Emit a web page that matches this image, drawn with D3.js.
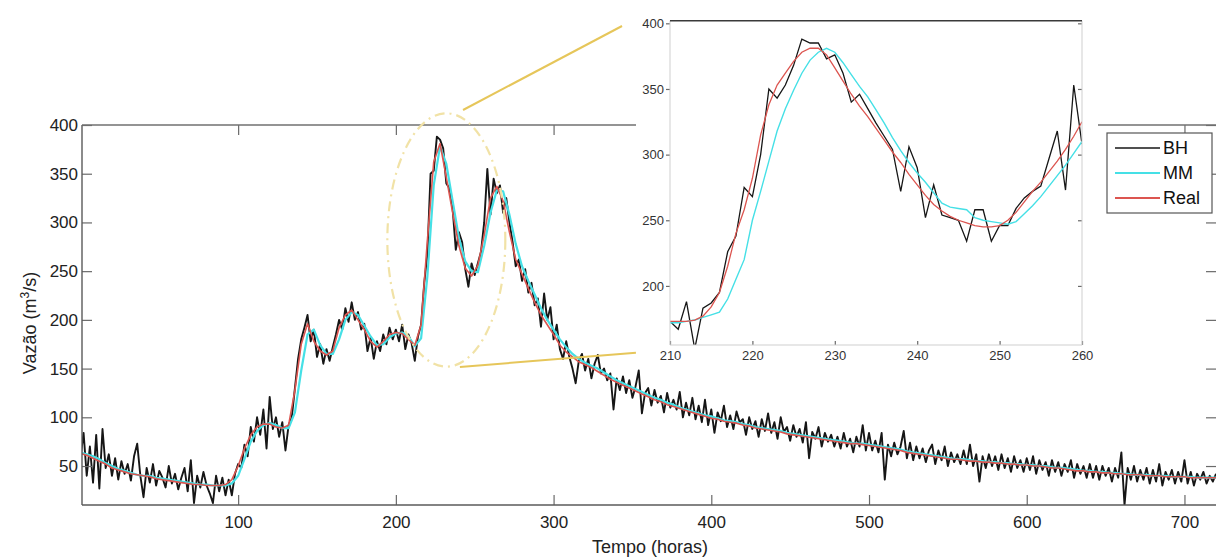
<!DOCTYPE html>
<html>
<head>
<meta charset="utf-8">
<script src="https://cdn.jsdelivr.net/npm/d3@7"></script>
<style>
  body { margin: 0; background: #fff; }
  svg { display: block; font-family: "Liberation Sans", Arial, sans-serif; }
</style>
</head>
<body>
<div class="chart"></div>
<script>
// Main series (hours 0..720). Real and MM every 4 h, BH every 2 h
var realMain = [
  63,61,58,55,52,48,46,44,42,41,
  40,39,37,36,35,34,33,32,31,31,
  30,30,30,31,36,50,68,82,90,93,
  93,90,89,92,128,175,196,178,168,164,
  168,192,205,210,200,190,178,172,178,185,
  187,186,180,174,195,282,362,381,346,310,
  276,253,245,256,287,325,337,322,290,262,
  247,232,218,205,195,185,174,167,162,157,
  154,151,147,143,139,136,133,130,127,124,
  121,118,116,113,111,109,107,105,103,101,
  99,98,96,95,94,92,91,89,88,87,
  86,85,83,82,81,80,79,78,77,76,
  75,74,73,73,72,71,70,69,68,67,
  66,64,63,62,61,60,59,58,57,57,
  56,55,55,54,54,53,53,52,52,51,
  51,50,50,49,48,48,47,46,45,45,
  44,44,43,43,42,42,41,41,41,40,
  40,40,39,39,39,39,38,38,38,38,
  38
];
var mmMain = [
  64,62,60,57,53,50,47,45,43,41,
  40,40,38,37,36,35,34,33,32,31,
  31,30,30,30,32,40,57,75,86,92,
  94,92,89,89,105,148,185,190,174,165,
  165,180,200,208,205,194,183,174,175,182,
  186,187,183,173,181,245,338,378,360,322,
  284,260,250,249,276,310,333,332,308,278,
  255,240,226,212,200,190,180,172,165,160,
  156,153,150,146,142,138,135,132,129,126,
  123,120,118,115,113,110,108,106,104,102,
  101,99,97,96,95,93,92,90,89,88,
  87,86,84,83,82,81,80,79,78,77,
  76,75,74,73,73,72,71,70,69,68,
  67,65,64,63,62,61,60,59,58,57,
  57,56,55,55,54,54,53,53,52,52,
  51,51,50,50,49,48,48,47,46,45,
  45,44,44,43,43,42,42,41,41,41,
  40,40,40,39,39,39,39,38,38,38,
  38
];
var bhMain = [
  58,84,40,70,33,82,27,88,48,62,
  40,58,36,55,42,52,35,60,73,40,
  18,48,33,52,30,45,38,28,50,32,
  42,26,38,48,24,56,12,40,28,44,
  30,22,12,40,24,38,20,36,20,42,
  52,48,72,60,90,75,100,82,108,68,
  121,88,100,80,95,66,92,100,130,160,
  180,192,205,178,190,162,175,155,170,158,
  172,185,200,190,212,198,218,200,208,190,
  196,168,182,160,178,168,185,175,192,180,
  190,178,195,170,185,176,158,183,195,238,
  268,350,353,388,385,376,340,335,314,272,
  290,280,252,234,258,246,258,270,300,355,
  308,345,330,338,310,325,300,280,255,262,
  240,252,228,238,215,222,193,227,200,213,
  180,195,170,160,178,162,150,135,158,165,
  148,160,140,155,164,145,150,138,145,108,
  140,128,142,125,138,120,132,148,104,125,
  130,112,128,115,122,105,125,110,118,108,
  126,100,115,102,120,98,112,95,118,92,
  108,84,105,96,112,90,102,88,106,95,
  98,82,100,88,96,80,98,86,104,84,
  95,78,100,85,90,76,92,80,88,74,
  95,58,85,78,90,70,84,75,82,70,
  80,68,84,70,78,64,80,70,92,66,
  84,66,76,64,84,36,72,60,74,62,
  70,86,58,74,56,70,58,68,54,66,
  72,52,66,56,70,50,64,54,62,52,
  66,52,72,50,62,34,60,48,62,50,
  60,46,62,48,58,44,60,48,56,44,
  58,46,60,42,56,46,54,40,56,44,
  54,40,52,44,56,38,52,42,50,38,
  52,38,50,36,50,40,48,34,48,38,
  64,10,48,36,50,34,46,36,48,32,
  46,34,52,30,44,36,46,32,44,34,
  56,32,44,30,42,36,44,32,40,34,
  42
];

// Zoomed window, hourly from 210 to 260
var realZoom = [
  173,173,173,174,177,184,195,215,240,258,
  282,315,338,353,362,371,378,381,381,376,
  366,356,346,337,329,320,311,302,294,285,
  277,269,262,257,253,250,248,246,245,245,
  246,250,256,264,272,279,287,295,304,314,
  325
];
var mmZoom = [
  172,172,173,174,176,178,180,190,205,220,
  250,272,295,318,335,349,362,372,378,381,
  378,370,361,352,344,334,324,313,303,294,
  286,279,271,263,260,259,258,252,250,249,
  248,247,249,255,261,268,276,284,292,301,
  310
];
var bhZoom = [
  173,167,188,152,183,187,195,226,238,275,
  268,300,350,343,353,368,388,385,385,373,
  376,362,340,346,335,324,314,304,272,306,
  290,252,277,254,252,250,234,258,258,234,
  246,246,259,267,272,276,297,318,273,353,
  308
];

var mainXTicks = [100, 200, 300, 400, 500, 600, 700];
var mainYTicks = [50, 100, 150, 200, 250, 300, 350, 400];
var zoomXTicks = [210, 220, 230, 240, 250, 260];
var zoomYTicks = [200, 250, 300, 350, 400];
var seriesNames = ["BH", "MM", "Real"];
var seriesColors = ["#161616", "#45e0e6", "#dc5550"];

var mainHours4 = d3.range(0, 721, 4);
var mainHours2 = d3.range(0, 721, 2);
var zoomHours = d3.range(210, 261, 1);

var svgWidth = 1216;
var svgHeight = 558;

var svg = d3.select(".chart")
  .append("svg")
  .attr("width", svgWidth)
  .attr("height", svgHeight);

svg.append("rect").attr("width", svgWidth).attr("height", svgHeight).attr("fill", "#fff");

// ---------- main chart ----------
var xMain = d3.scaleLinear().domain([1, 720]).range([82, 1216]);
var yMain = d3.scaleLinear().domain([10, 400]).range([505, 125]);

svg.append("clipPath").attr("id", "clipMain")
  .append("rect")
  .attr("x", 82).attr("y", 125)
  .attr("width", 1216 - 82).attr("height", 505 - 125);

var mainLine = d3.line()
  .x(d => xMain(d[0]))
  .y(d => yMain(d[1]));

var mainSeries = [
  d3.zip(mainHours2, bhMain),
  d3.zip(mainHours4, mmMain),
  d3.zip(mainHours4, realMain)
];
var mainWidths = [1.9, 2.2, 1.6];

var plotGroup = svg.append("g").attr("clip-path", "url(#clipMain)");
mainSeries.forEach(function(s, i) {
  plotGroup.append("path")
    .datum(s)
    .attr("d", mainLine)
    .attr("fill", "none")
    .attr("stroke", seriesColors[i])
    .attr("stroke-width", mainWidths[i])
    .attr("stroke-linejoin", "round");
});

// axes with inward ticks (matlab look)
function styleAxis(g, size, color) {
  g.select(".domain").remove();
  g.selectAll(".tick line").attr("stroke", "#6a6a6a").attr("stroke-width", 1.2);
  g.selectAll(".tick text")
    .attr("font-size", size)
    .attr("fill", color)
    .attr("font-family", "Liberation Sans, Arial, sans-serif");
}

svg.append("g")
  .attr("transform", "translate(0,505)")
  .call(d3.axisBottom(xMain).tickValues(mainXTicks).tickSize(-10).tickPadding(11))
  .call(g => styleAxis(g, 17, "#222"));

svg.append("g")
  .attr("transform", "translate(82,0)")
  .call(d3.axisLeft(yMain).tickValues(mainYTicks).tickSize(-10).tickPadding(4))
  .call(g => styleAxis(g, 17, "#222"));

svg.append("g")
  .attr("transform", "translate(0,125)")
  .call(d3.axisTop(xMain).tickValues(mainXTicks).tickSize(-10).tickFormat(""))
  .call(g => styleAxis(g, 17, "#222"));

svg.append("g")
  .attr("transform", "translate(1216,0)")
  .call(d3.axisRight(yMain).tickValues(mainYTicks).tickSize(-10).tickFormat(""))
  .call(g => styleAxis(g, 17, "#222"));

// frame
svg.append("line").attr("x1", 82).attr("x2", 1216).attr("y1", 505).attr("y2", 505)
  .attr("stroke", "#5a5a5a").attr("stroke-width", 1.4);
svg.append("line").attr("x1", 82).attr("x2", 82).attr("y1", 125).attr("y2", 505)
  .attr("stroke", "#5a5a5a").attr("stroke-width", 1.4);
svg.append("line").attr("x1", 82).attr("x2", 1216).attr("y1", 125).attr("y2", 125)
  .attr("stroke", "#707070").attr("stroke-width", 1.6);

// axis titles
svg.append("text")
  .attr("x", 650).attr("y", 553)
  .attr("text-anchor", "middle")
  .attr("font-size", 18).attr("fill", "#222")
  .text("Tempo (horas)");

var yTitle = svg.append("text")
  .attr("transform", "translate(36,323) rotate(-90)")
  .attr("text-anchor", "middle")
  .attr("font-size", 18).attr("fill", "#222");
yTitle.append("tspan").text("Vazão (m");
yTitle.append("tspan").attr("font-size", 12).attr("dy", -7).text("3");
yTitle.append("tspan").attr("dy", 7).text("/s)");

// zoom marker: ellipse and connector lines, placed in data units
var ellipseCenter = [232, 282];
var ellipseEdge = [269.4, 152];
svg.append("ellipse")
  .attr("cx", xMain(ellipseCenter[0]))
  .attr("cy", yMain(ellipseCenter[1]))
  .attr("rx", xMain(ellipseEdge[0]) - xMain(ellipseCenter[0]))
  .attr("ry", yMain(ellipseEdge[1]) - yMain(ellipseCenter[1]))
  .attr("fill", "none")
  .attr("stroke", "#f1e2a6")
  .attr("stroke-width", 2.2)
  .attr("stroke-dasharray", "10,5,2,5");

var connectors = [
  [[242.6, 415.4], [343.4, 501.6]],
  [[240.6, 151.6], [352.2, 166.3]]
];
connectors.forEach(function(c) {
  svg.append("line")
    .attr("x1", xMain(c[0][0])).attr("y1", yMain(c[0][1]))
    .attr("x2", xMain(c[1][0])).attr("y2", yMain(c[1][1]))
    .attr("stroke", "#e6c65a").attr("stroke-width", 2);
});

// ---------- inset ----------
var xZoom = d3.scaleLinear().domain([210, 260]).range([670, 1082]);
var yZoom = d3.scaleLinear().domain([155, 402]).range([345, 20.7]);

svg.append("rect")
  .attr("x", 636).attr("y", 0)
  .attr("width", 462).attr("height", 362)
  .attr("fill", "#fff");

svg.append("clipPath").attr("id", "clipZoom")
  .append("rect")
  .attr("x", 670).attr("y", 20.7)
  .attr("width", 1082 - 670).attr("height", 345 - 20.7);

var zoomLine = d3.line()
  .x(d => xZoom(d[0]))
  .y(d => yZoom(d[1]));

var zoomSeries = [
  d3.zip(zoomHours, bhZoom),
  d3.zip(zoomHours, mmZoom),
  d3.zip(zoomHours, realZoom)
];
var zoomWidths = [1.3, 1.4, 1.3];

var zoomGroup = svg.append("g").attr("clip-path", "url(#clipZoom)");
zoomSeries.forEach(function(s, i) {
  zoomGroup.append("path")
    .datum(s)
    .attr("d", zoomLine)
    .attr("fill", "none")
    .attr("stroke", seriesColors[i])
    .attr("stroke-width", zoomWidths[i]);
});

svg.append("g")
  .attr("transform", "translate(0,345)")
  .call(d3.axisBottom(xZoom).tickValues(zoomXTicks).tickSize(-4).tickPadding(6))
  .call(g => styleAxis(g, 13, "#333"));

svg.append("g")
  .attr("transform", "translate(670,0)")
  .call(d3.axisLeft(yZoom).tickValues(zoomYTicks).tickSize(4).tickPadding(2))
  .call(g => styleAxis(g, 13, "#333"));

svg.append("g")
  .attr("transform", "translate(1082,0)")
  .call(d3.axisRight(yZoom).tickValues(zoomYTicks).tickSize(-4).tickFormat(""))
  .call(g => styleAxis(g, 13, "#333"));

svg.append("path")
  .attr("d", "M670,20.7V345H1082V20.7")
  .attr("fill", "none").attr("stroke", "#cfcfcf").attr("stroke-width", 1);
svg.append("line").attr("x1", 670).attr("x2", 1082).attr("y1", 20.7).attr("y2", 20.7)
  .attr("stroke", "#3a3a3a").attr("stroke-width", 1.5);

// ---------- legend ----------
var legend = svg.append("g").attr("transform", "translate(1107,133)");
legend.append("rect")
  .attr("width", 105).attr("height", 80)
  .attr("fill", "#fff").attr("stroke", "#555").attr("stroke-width", 1.2);

seriesNames.forEach(function(name, i) {
  var yy = 15 + i * 25;
  legend.append("line")
    .attr("x1", 8).attr("x2", 53).attr("y1", yy).attr("y2", yy)
    .attr("stroke", seriesColors[i]).attr("stroke-width", i === 0 ? 1.4 : 2);
  legend.append("text")
    .attr("x", 56).attr("y", yy + 6)
    .attr("font-size", 18).attr("fill", "#111")
    .text(name);
});
</script>
</body>
</html>
